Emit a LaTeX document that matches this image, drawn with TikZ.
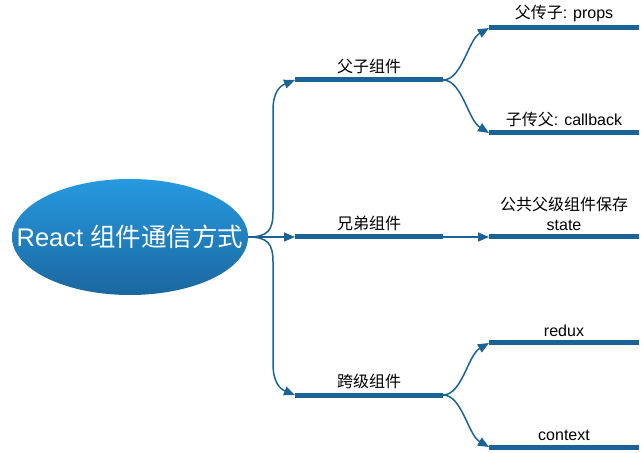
\documentclass[tikz,border=0pt]{standalone}
\usepackage{fontspec}
\setmainfont{Liberation Sans}
\newfontfamily\cjk{Noto Sans CJK SC}
\usepackage{tikz}
\usetikzlibrary{positioning,shapes.geometric,arrows.meta}
\definecolor{branch}{HTML}{1A6394}
\definecolor{rootTop}{HTML}{2699E0}
\definecolor{rootBot}{HTML}{1B679F}

\begin{document}
\begin{tikzpicture}[x=1pt, y=1pt, >={Triangle[length=11pt,width=9pt]},
		bar/.style={draw=branch, line width=5pt},
		link/.style={draw=branch, line width=1.5pt, ->},
		lbl/.style={font=\fontsize{16}{20}\selectfont, inner sep=1pt, align=center}]
		\useasboundingbox (0,0) rectangle (644,452);
		\node[ellipse, minimum width=236pt, minimum height=116pt, inner sep=0pt, top color=rootTop, bottom color=rootBot] (root) at (130,215) {};
		\node[text=white, inner sep=0pt, font=\fontsize{25.5}{30}\selectfont] (title) at (root.center) {React {\cjk 组件通信方式}};

		\coordinate (fz-s) at (295,372);
		\coordinate[right=148pt of fz-s] (fz-e);
		\coordinate (xd-s) at (295,215);
		\coordinate[right=148pt of xd-s] (xd-e);
		\coordinate (kj-s) at (295,57);
		\coordinate[right=148pt of kj-s] (kj-e);
		\coordinate (props-s) at (489,424);
		\coordinate[right=150pt of props-s] (props-e);
		\coordinate (cb-s) at (489,319);
		\coordinate[right=150pt of cb-s] (cb-e);
		\coordinate (state-s) at (489,215);
		\coordinate[right=150pt of state-s] (state-e);
		\coordinate (redux-s) at (489,109);
		\coordinate[right=150pt of redux-s] (redux-e);
		\coordinate (ctx-s) at (489,5);
		\coordinate[right=150pt of ctx-s] (ctx-e);

		\draw[bar] (fz-s) -- (fz-e) node[lbl, midway, above=3pt] (fz) {{\cjk 父子组件}};
		\draw[bar] (xd-s) -- (xd-e) node[lbl, midway, above=3pt] (xd) {{\cjk 兄弟组件}};
		\draw[bar] (kj-s) -- (kj-e) node[lbl, midway, above=3pt] (kj) {{\cjk 跨级组件}};
		\draw[bar] (props-s) -- (props-e) node[lbl, midway, above=3pt] (props) {{\cjk 父传子}: props};
		\draw[bar] (cb-s) -- (cb-e) node[lbl, midway, above=3pt] (cb) {{\cjk 子传父}: callback};
		\draw[bar] (state-s) -- (state-e) node[lbl, midway, above=3pt] (state) {{\cjk 公共父级组件保存}\\state};
		\draw[bar] (redux-s) -- (redux-e) node[lbl, midway, above=3pt] (redux) {redux};
		\draw[bar] (ctx-s) -- (ctx-e) node[lbl, midway, above=3pt] (ctx) {context};

		\draw[link] (root.east) .. controls (268,215) and (273,222) .. (273,240) -- (273,342) .. controls (273,360) and (280,366) .. (fz-s);
		\draw[link] (root.east) -- (xd-s);
		\draw[link] (root.east) .. controls (268,215) and (273,208) .. (273,190) -- (273,88) .. controls (273,70) and (280,63) .. (kj-s);

		\draw[link] (fz-e) .. controls (462,372) and (468,412) .. (props-s);
		\draw[link] (fz-e) .. controls (462,372) and (468,332) .. (cb-s);
		\draw[link] (xd-e) -- (state-s);
		\draw[link] (kj-e) .. controls (462,57) and (468,97) .. (redux-s);
		\draw[link] (kj-e) .. controls (462,57) and (468,17) .. (ctx-s);
	\end{tikzpicture}
\end{document}
